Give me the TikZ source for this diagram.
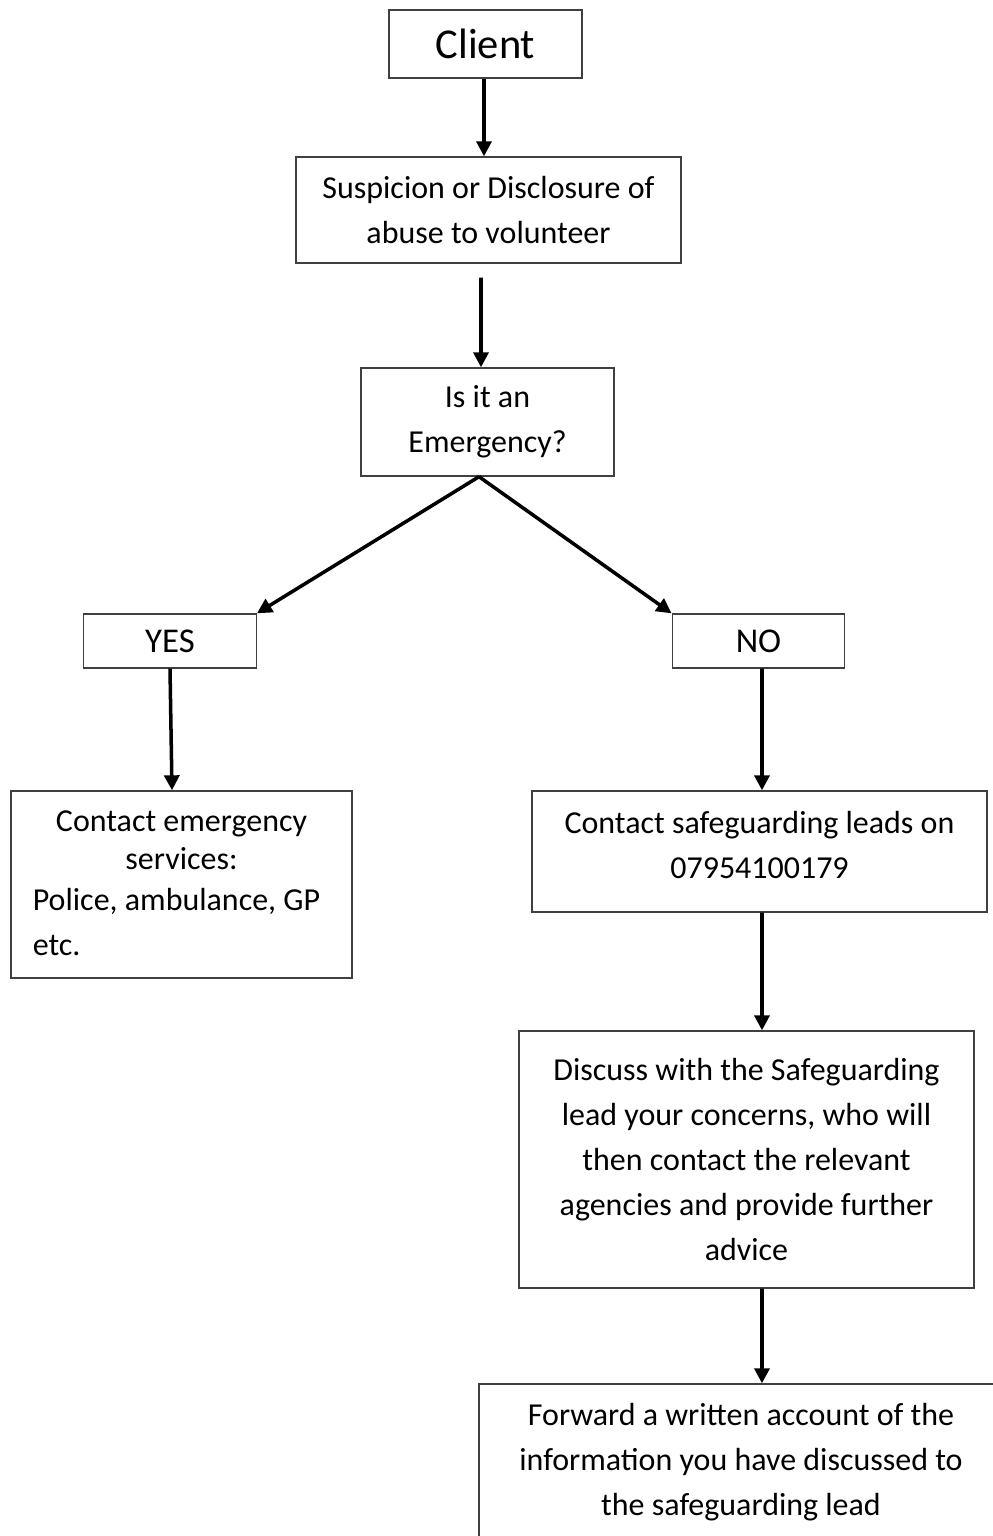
\documentclass[tikz,border=0pt]{standalone}
\usepackage{fontspec}
\setmainfont{Carlito}
\usetikzlibrary{arrows.meta}

\begin{document}
\begin{tikzpicture}[
  x=0.02cm, y=-0.02cm,
  box/.style={rectangle, draw=black!75, line width=0.8pt, inner sep=0pt,
    align=center, font=\fontsize{18.2}{25.6}\selectfont},
  answer/.style={box, minimum width=3.45cm, minimum height=1.08cm,
    font=\fontsize{19.8}{24}\selectfont},
  arr/.style={-{Triangle[length=0.3cm, width=0.3cm]}, line width=2pt, black},
]
\useasboundingbox (0,0) rectangle (993,1536);
\node[box, minimum width=3.86cm, minimum height=1.36cm,
  font=\fontsize{24.2}{28}\selectfont] (client) at (485.5,44) {Client};
\node[box, minimum width=7.7cm, minimum height=2.12cm] (susp) at (488.5,210)
  {Suspicion or Disclosure of\\abuse to volunteer};
\node[box, minimum width=5.06cm, minimum height=2.16cm] (emerg) at (487.5,422)
  {Is it an\\Emergency?};
\node[answer] (yes) at (170,641) {YES};
\node[answer] (no) at (758.5,641) {NO};
\node[box, minimum width=6.82cm, minimum height=3.74cm] (services) at (181.5,884.5)
  {\begin{tabular}{@{}l@{\hspace{0.2cm}}}
   \multicolumn{1}{@{\hspace{0.1cm}}c@{\hspace{0.1cm}}}{Contact emergency}\\[-4pt]
   \multicolumn{1}{@{\hspace{0.1cm}}c@{\hspace{0.1cm}}}{services:}\\[-2pt]
   Police, ambulance, GP\\
   etc.
   \end{tabular}};
\node[box, minimum width=9.1cm, minimum height=2.42cm] (leads) at (759.5,851.5)
  {Contact safeguarding leads on\\07954100179\\[-17.6pt]\mbox{}};
\node[box, minimum width=9.1cm, minimum height=5.14cm] (discuss) at (746.5,1159.5)
  {Discuss with the Safeguarding\\lead your concerns, who will\\then contact the relevant\\agencies and provide further\\advice};
\node[box, minimum width=10.48cm, minimum height=3.12cm] (forward) at (741,1462)
  {Forward a written account of the\\information you have discussed to\\the safeguarding lead};
\draw[arr] ([xshift=-0.03cm]client.south) -- ([xshift=-0.03cm]client.south |- susp.north);
\draw[arr] ([xshift=-0.15cm, yshift=-0.28cm]susp.south) -- ([xshift=-0.13cm]emerg.north);
\draw[arr] ([xshift=-0.17cm]emerg.south) -- (yes.north east);
\draw[arr] ([xshift=-0.17cm]emerg.south) -- (no.north west);
\draw[arr] (yes.south) -- ([xshift=-0.19cm]services.north);
\draw[arr] ([xshift=0.07cm]no.south) -- ([xshift=0.05cm]leads.north);
\draw[arr] ([xshift=0.05cm]leads.south) -- ([xshift=0.31cm]discuss.north);
\draw[arr] ([xshift=0.31cm]discuss.south) -- ([xshift=0.42cm]forward.north);
\end{tikzpicture}
\end{document}
